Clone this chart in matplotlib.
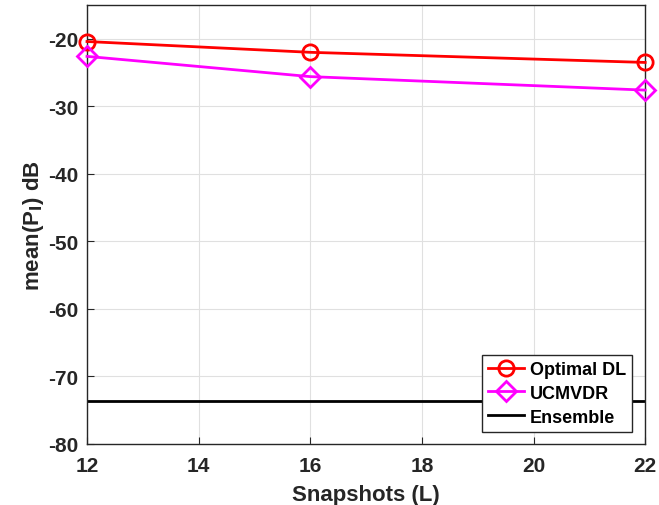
import numpy as np
import matplotlib.pyplot as plt

snapshots = [12, 16, 22]
optimal_dl = [-20.4, -22.0, -23.5]
ucmvdr = [-22.6, -25.6, -27.6]
ensemble_x = [12, 22]
ensemble = [-73.6, -73.6]

plt.rcParams['font.family'] = ['Liberation Sans', 'DejaVu Sans']
plt.rcParams['font.weight'] = 'bold'
plt.rcParams['axes.unicode_minus'] = False

fig = plt.figure(figsize=(6.59, 5.06), dpi=100)
ax = fig.add_axes([0.132, 0.121, 0.847, 0.867])

ax.plot(snapshots, optimal_dl, '-o', color='red', lw=2, ms=11,
        mfc='none', mew=2, label='Optimal DL', clip_on=False, zorder=3)
ax.plot(snapshots, ucmvdr, '-D', color='magenta', lw=2, ms=10,
        mfc='none', mew=2, label='UCMVDR', clip_on=False, zorder=3)
ax.plot(ensemble_x, ensemble, '-', color='black', lw=2, label='Ensemble')

ax.set_xlim(12, 22)
ax.set_ylim(-80, -15)
ax.set_xticks(np.arange(12, 23, 2))
ax.set_yticks(np.arange(-80, -19, 10))
ax.tick_params(direction='in', labelsize=15, colors='#262626', length=5)
ax.tick_params(axis='x', pad=9)
ax.tick_params(axis='y', pad=6)
for lbl in ax.get_xticklabels() + ax.get_yticklabels():
    lbl.set_fontweight('bold')
for s in ax.spines.values():
    s.set_color('#262626')
    s.set_linewidth(1)
ax.grid(True, color='#e0e0e0', lw=0.8)
ax.set_axisbelow(True)

ax.set_xlabel('Snapshots (L)', fontsize=16, fontweight='bold', color='#262626', labelpad=6)
ax.set_ylabel('mean(P$_\\mathbf{l}$) dB', fontsize=16, fontweight='bold', color='#262626', labelpad=2)

leg = ax.legend(loc='lower right', fontsize=13, fancybox=False, framealpha=1,
                edgecolor='#262626', handlelength=2.0, borderpad=0.35,
                labelspacing=0.38, handletextpad=0.3, borderaxespad=0,
                bbox_to_anchor=(0.977, 0.027))
leg.get_frame().set_linewidth(1)
for t in leg.get_texts():
    t.set_fontweight('bold')

fig.savefig('out.png', dpi=100)
